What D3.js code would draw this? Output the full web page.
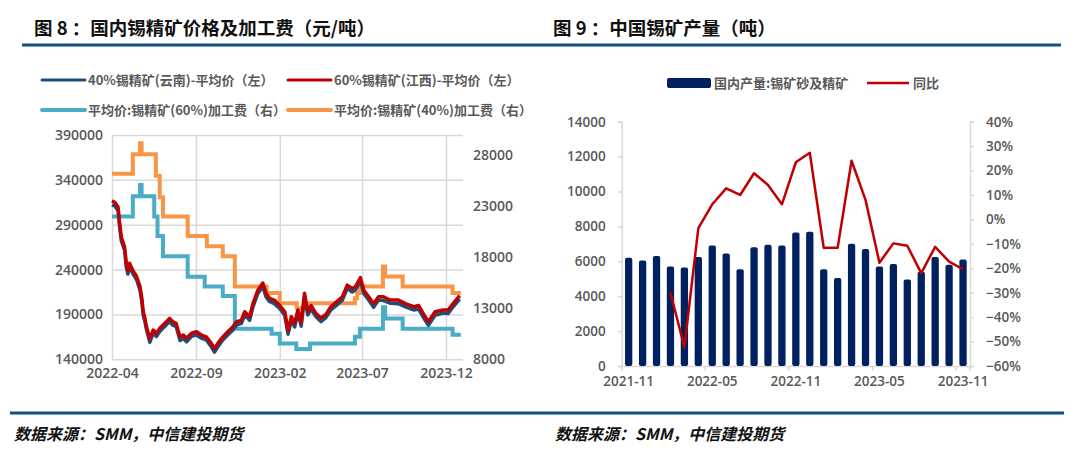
<!DOCTYPE html>
<html>
<head>
<meta charset="utf-8">
<script src="https://cdn.jsdelivr.net/npm/d3@7"></script>
<style>
  body { margin: 0; background: #fff; }
  svg { display: block; }
</style>
</head>
<body>
<div class="vis"></div>
<script>
// ---- left chart: tin concentrate price (daily, sampled) ----
const priceDates = [
  '2022-04-01','2022-04-06','2022-04-12','2022-04-15','2022-04-18','2022-04-24','2022-04-27','2022-04-30',
  '2022-05-03','2022-05-09','2022-05-16','2022-05-22','2022-05-25','2022-05-28','2022-05-31','2022-06-03',
  '2022-06-09','2022-06-15','2022-06-21','2022-06-27','2022-07-06','2022-07-15','2022-07-21','2022-07-27',
  '2022-08-03','2022-08-09','2022-08-15','2022-08-24','2022-09-02','2022-09-11','2022-09-20','2022-09-29',
  '2022-10-05','2022-10-11','2022-10-20','2022-10-29','2022-11-07','2022-11-14','2022-11-23','2022-11-29',
  '2022-12-08','2022-12-14','2022-12-23','2023-01-01','2023-01-07','2023-01-13','2023-01-22','2023-02-01',
  '2023-02-10','2023-02-16','2023-02-22','2023-02-28','2023-03-06','2023-03-12','2023-03-18','2023-03-24',
  '2023-03-30','2023-04-08','2023-04-17','2023-04-26','2023-05-05','2023-05-17','2023-05-26','2023-06-04',
  '2023-06-13','2023-06-19','2023-06-28','2023-07-04','2023-07-13','2023-07-22','2023-07-31','2023-08-09',
  '2023-08-21','2023-09-05','2023-09-18','2023-10-03','2023-10-12','2023-10-24','2023-10-30','2023-11-11',
  '2023-11-26','2023-12-05','2023-12-14','2023-12-26'
];
const price60 = [
  316500,315000,309800,291000,276000,265000,247000,239000,
  247000,239000,232000,221000,209700,193000,185600,176000,
  163000,172600,169000,174500,180000,185600,181800,180000,
  165000,167000,163400,169000,170700,167000,165000,157800,
  152000,157800,165000,170700,176000,181800,183700,193000,
  187400,202000,217000,225000,213500,208000,206000,200000,
  193000,172000,187400,180000,195000,181000,213500,193000,
  200000,191000,186000,190000,198600,205000,209700,222700,
  219000,221000,231000,217000,209700,202000,209700,209700,
  206000,206000,202000,198600,200000,187400,182000,193000,
  195000,195000,202000,211000
];
const price40 = [
  312000,311000,306000,287500,272000,261500,243000,235000,
  243500,235500,228500,217000,206000,189000,182000,172500,
  159000,169000,165500,171000,176500,182000,178000,176500,
  161000,163500,159500,165500,167000,163500,161500,154000,
  148000,154000,161500,167000,172500,178000,180000,189500,
  183500,198500,213500,221000,209500,204500,202000,196500,
  189000,168000,183500,176000,191500,177000,209000,189500,
  196000,187500,182000,186500,195000,201000,206000,219000,
  215000,217500,227000,213500,206000,198000,206000,205500,
  202500,202000,198500,195000,196000,183500,178000,189000,
  191500,191000,198500,207000
];

// processing fees (weekly steps)
const fee60Dates = ['2022-04-01','2022-05-09','2022-05-22','2022-05-25','2022-06-17','2022-06-23','2022-07-03',
  '2022-08-17','2022-09-17','2022-10-20','2022-11-11','2023-01-17','2023-02-01','2023-03-03','2023-03-28',
  '2023-06-18','2023-06-27','2023-08-08','2023-08-12','2023-09-13','2023-12-13','2023-12-28'];
const fee60 = [22000,24000,25100,24000,22000,20100,18100,16100,15150,14200,11000,10500,9550,9000,9550,
  10200,11000,13100,12000,11000,10400,10400];
const fee40Dates = ['2022-04-01','2022-05-09','2022-05-22','2022-05-25','2022-06-20','2022-06-27','2022-07-03',
  '2022-08-17','2022-09-21','2022-10-20','2022-11-11','2023-01-08','2023-02-01','2023-03-04','2023-03-28',
  '2023-06-18','2023-06-22','2023-06-27','2023-08-08','2023-08-12','2023-09-13','2023-12-13','2023-12-28'];
const fee40 = [26200,28100,29200,28100,26000,23900,22000,20100,19100,18100,15150,14500,13500,13000,13500,
  14000,14500,15150,17100,16130,15150,14500,14500];

const leftTicksL = [140000,190000,240000,290000,340000,390000];
const leftTicksR = [8000,13000,18000,23000,28000];
const leftXTicks = ['2022-04','2022-09','2023-02','2023-07','2023-12'];

// ---- right chart: China tin ore output ----
const months = ['2021-11','2021-12','2022-01','2022-02','2022-03','2022-04','2022-05','2022-06','2022-07',
  '2022-08','2022-09','2022-10','2022-11','2022-12','2023-01','2023-02','2023-03','2023-04','2023-05',
  '2023-06','2023-07','2023-08','2023-09','2023-10','2023-11'];
const output = [6200,6050,6300,5700,5650,6250,6900,6450,5550,6800,6950,6900,7650,7700,5550,5050,7000,
  6700,5700,5850,4950,5400,6250,5800,6100];
const yoy = [null,null,null,-0.30,-0.523,-0.036,0.062,0.127,0.10,0.189,0.141,0.062,0.234,0.273,-0.116,
  -0.116,0.24,0.08,-0.177,-0.098,-0.108,-0.22,-0.112,-0.173,-0.204];
const rightXTicks = ['2021-11','2022-05','2022-11','2023-05','2023-11'];

const parse = d3.timeParse('%Y-%m-%d');
const grey = '#595959';
const gridCol = '#d9d9d9';
const numFont = '"Open Sans", "DejaVu Sans", sans-serif';
const cjkFont = '"Noto Sans CJK SC", "Noto Sans", sans-serif';

const svg = d3.select('.vis').append('svg')
  .attr('width', 1080).attr('height', 451);
svg.append('rect').attr('width', 1080).attr('height', 451).attr('fill', '#fff');

// titles + rules
svg.append('text').attr('x', 34).attr('y', 35)
  .attr('font-family', cjkFont).attr('font-weight', 700).attr('font-size', 18.5).attr('fill', '#111')
  .text('图 8 ：国内锡精矿价格及加工费（元/吨）');
svg.append('text').attr('x', 553).attr('y', 35)
  .attr('font-family', cjkFont).attr('font-weight', 700).attr('font-size', 18.5).attr('fill', '#111')
  .text('图 9 ：中国锡矿产量（吨）');
svg.append('line').attr('x1', 22).attr('x2', 1061).attr('y1', 45).attr('y2', 45)
  .attr('stroke', '#10518a').attr('stroke-width', 3);
svg.append('line').attr('x1', 10).attr('x2', 1064).attr('y1', 413).attr('y2', 413)
  .attr('stroke', '#10518a').attr('stroke-width', 3);
[14, 555].forEach(x => {
  svg.append('text').attr('x', x).attr('y', 440)
    .attr('font-family', cjkFont).attr('font-weight', 700).attr('font-style', 'italic')
    .attr('font-size', 16).attr('fill', '#111')
    .text('数据来源：SMM，中信建投期货');
});

// ================= LEFT CHART =================
const xL = d3.scaleTime().domain([parse('2022-04-01'), parse('2024-01-01')]).range([112, 463]);
const yL = d3.scaleLinear().domain([140000, 390000]).range([359.3, 135]);
const yR = d3.scaleLinear().domain([8000, 30000]).range([359.3, 135]);

const gL = svg.append('g');

// horizontal grid + left labels
const axL = gL.append('g').attr('transform', 'translate(112,0)')
  .call(d3.axisLeft(yL).tickValues(leftTicksL).tickSize(-351).tickPadding(9).tickFormat(d3.format('d')));
axL.select('.domain').remove();
axL.selectAll('line').attr('stroke', gridCol).attr('stroke-width', 1.5);
axL.selectAll('text').attr('font-family', numFont).attr('font-weight', 600).attr('font-size', 14).attr('fill', grey);

// vertical grid + x labels
const xTickDates = leftXTicks.map(s => parse(s + '-01'));
const axX = gL.append('g').attr('transform', 'translate(0,359.3)')
  .call(d3.axisBottom(xL).tickValues(xTickDates).tickSize(-224.3).tickPadding(9).tickFormat(d3.timeFormat('%Y-%m')));
axX.select('.domain').remove();
axX.selectAll('line').attr('stroke', gridCol).attr('stroke-width', 1.5);
axX.selectAll('text').attr('font-family', numFont).attr('font-weight', 600).attr('font-size', 14).attr('fill', grey);

// right labels
const axR = gL.append('g').attr('transform', 'translate(463,0)')
  .call(d3.axisRight(yR).tickValues(leftTicksR).tickSize(0).tickPadding(10).tickFormat(d3.format('d')));
axR.select('.domain').remove();
axR.selectAll('text').attr('font-family', numFont).attr('font-weight', 600).attr('font-size', 14).attr('fill', grey);

const stepLine = d3.line().x(d => xL(d.date)).y(d => yR(d.v)).curve(d3.curveStepAfter);
const priceLine = d3.line().x(d => xL(d.date)).y(d => yL(d.v));

const f60 = fee60Dates.map((s, i) => ({ date: parse(s), v: fee60[i] }));
const f40 = fee40Dates.map((s, i) => ({ date: parse(s), v: fee40[i] }));
const p40 = priceDates.map((s, i) => ({ date: parse(s), v: price40[i] }));
const p60 = priceDates.map((s, i) => ({ date: parse(s), v: price60[i] }));

gL.append('path').datum(f60).attr('d', stepLine).attr('fill', 'none')
  .attr('stroke', '#4bacc6').attr('stroke-width', 4);
gL.append('path').datum(f40).attr('d', stepLine).attr('fill', 'none')
  .attr('stroke', '#f79646').attr('stroke-width', 4);
gL.append('path').datum(p40).attr('d', priceLine).attr('fill', 'none')
  .attr('stroke', '#1f4e79').attr('stroke-width', 3.5).attr('stroke-linejoin', 'round');
gL.append('path').datum(p60).attr('d', priceLine).attr('fill', 'none')
  .attr('stroke', '#c00000').attr('stroke-width', 3.5).attr('stroke-linejoin', 'round');

// legend
const legL = [
  { label: '40%锡精矿(云南)-平均价（左）', color: '#1f4e79', w: 3, x: 42, y: 80 },
  { label: '60%锡精矿(江西)-平均价（左）', color: '#c00000', w: 3, x: 288, y: 80 },
  { label: '平均价:锡精矿(60%)加工费（右）', color: '#4bacc6', w: 4, x: 42, y: 110 },
  { label: '平均价:锡精矿(40%)加工费（右）', color: '#f79646', w: 4, x: 288, y: 110 }
];
legL.forEach(d => {
  gL.append('line').attr('x1', d.x).attr('x2', d.x + 43).attr('y1', d.y).attr('y2', d.y)
    .attr('stroke', d.color).attr('stroke-width', d.w).attr('stroke-linecap', 'round');
  gL.append('text').attr('x', d.x + 46).attr('y', d.y + 5)
    .attr('font-family', cjkFont).attr('font-weight', 600).attr('font-size', 13).attr('fill', grey)
    .text(d.label);
});

// ================= RIGHT CHART =================
const x2 = d3.scaleBand().domain(months).range([621.7, 970]).paddingInner(0.476).paddingOuter(0.238);
const y2 = d3.scaleLinear().domain([0, 14000]).range([366, 121.7]);
const y2r = d3.scaleLinear().domain([-0.6, 0.4]).range([366, 121.7]);
const gR = svg.append('g');

const axY2 = gR.append('g').attr('transform', 'translate(621.7,0)')
  .call(d3.axisLeft(y2).ticks(7).tickSize(4).tickPadding(12).tickFormat(d3.format('d')));
const axY2r = gR.append('g').attr('transform', 'translate(970,0)')
  .call(d3.axisRight(y2r).ticks(10).tickSize(4).tickPadding(12).tickFormat(d3.format('.0%')));
[axY2, axY2r].forEach(a => {
  a.select('.domain').attr('stroke', gridCol).attr('stroke-width', 1.5);
  a.selectAll('line').attr('stroke', gridCol).attr('stroke-width', 1.5);
  a.selectAll('text').attr('font-family', numFont).attr('font-weight', 600).attr('font-size', 13.5).attr('fill', grey);
});

const axX2 = gR.append('g').attr('transform', 'translate(0,366)')
  .call(d3.axisBottom(x2).tickValues(rightXTicks).tickSize(0).tickPadding(10));
axX2.select('.domain').attr('stroke', gridCol).attr('stroke-width', 1.5);
axX2.selectAll('text').attr('font-family', numFont).attr('font-weight', 600).attr('font-size', 13.5).attr('fill', grey);
// tick marks sit between categories
const half = x2.step() * x2.paddingInner() / 2;
rightXTicks.forEach(m => {
  const xp = x2(m) - half;
  axX2.append('line').attr('x1', xp).attr('x2', xp).attr('y1', 0).attr('y2', 5)
    .attr('stroke', gridCol).attr('stroke-width', 1.5);
});
axX2.append('line').attr('x1', x2.range()[1]).attr('x2', x2.range()[1]).attr('y1', 0).attr('y2', 5)
  .attr('stroke', gridCol).attr('stroke-width', 1.5);

gR.selectAll('rect.bar').data(months).enter().append('rect')
  .attr('class', 'bar')
  .attr('x', d => x2(d))
  .attr('width', x2.bandwidth())
  .attr('y', (d, i) => y2(output[i]))
  .attr('height', (d, i) => y2(0) - y2(output[i]))
  .attr('rx', 2)
  .attr('fill', '#002060');

const yoyLine = d3.line()
  .defined(d => d.v !== null)
  .x(d => x2(d.m) + x2.bandwidth() / 2)
  .y(d => y2r(d.v));
gR.append('path').datum(months.map((m, i) => ({ m, v: yoy[i] })))
  .attr('d', yoyLine).attr('fill', 'none')
  .attr('stroke', '#c00000').attr('stroke-width', 2.5).attr('stroke-linejoin', 'round');

// legend
gR.append('rect').attr('x', 667).attr('y', 78).attr('width', 44).attr('height', 10).attr('rx', 2)
  .attr('fill', '#002060');
gR.append('text').attr('x', 714).attr('y', 88)
  .attr('font-family', cjkFont).attr('font-weight', 600).attr('font-size', 13).attr('fill', grey)
  .text('国内产量:锡矿砂及精矿');
gR.append('line').attr('x1', 867).attr('x2', 909).attr('y1', 83).attr('y2', 83)
  .attr('stroke', '#c00000').attr('stroke-width', 2.5);
gR.append('text').attr('x', 913).attr('y', 88)
  .attr('font-family', cjkFont).attr('font-weight', 600).attr('font-size', 13).attr('fill', grey)
  .text('同比');
</script>
</body>
</html>
